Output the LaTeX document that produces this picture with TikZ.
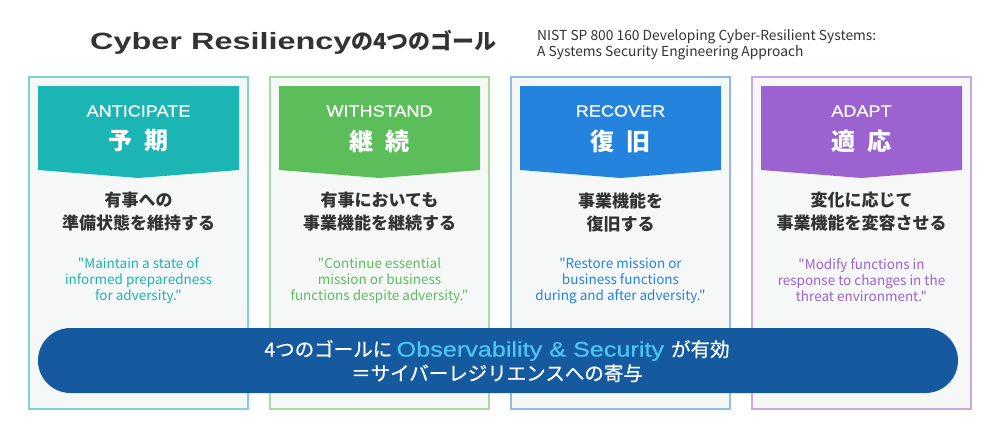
\documentclass[tikz,border=0pt]{standalone}
\usepackage{fontspec}
\usetikzlibrary{positioning}
\newfontfamily\jpfont{Noto Sans CJK JP}
\newfontfamily\jpmed[FakeBold=0.6]{Noto Sans CJK JP}
\newfontfamily\latfont{Liberation Sans}
\newfontfamily\titlelat[FakeStretch=1.38]{Liberation Sans Bold}
\newfontfamily\bandlat[FakeStretch=1.2, FakeBold=0.6]{Liberation Sans}
\newfontfamily\labellat[FakeStretch=1.13, FakeBold=0.4]{Liberation Sans}

\definecolor{tealH}{HTML}{1BB5B4}  \definecolor{tealL}{HTML}{80D2CE}
\definecolor{greenH}{HTML}{5BBE5B} \definecolor{greenL}{HTML}{A6DBA2}
\definecolor{blueH}{HTML}{2484DD}  \definecolor{blueL}{HTML}{8DBDEA}
\definecolor{purpH}{HTML}{9C62CF}  \definecolor{purpL}{HTML}{C9A8E6}
\definecolor{bandblue}{HTML}{155A9E}
\definecolor{lightcyan}{HTML}{4EC4F0}
\definecolor{cardbg}{HTML}{F6F8F8}
\definecolor{darktext}{HTML}{333333}

\begin{document}
\begin{tikzpicture}[x=1pt, y=-1pt,
	card/.style={draw, fill=cardbg, line width=1.2pt, minimum width=219, minimum height=332, inner sep=0},
	entitle/.style={text=white, font=\labellat\fontsize{16}{18}\selectfont},
	kanji/.style={text=white, font=\jpfont\bfseries\fontsize{24}{26}\selectfont},
	goal/.style={text=darktext, align=center, font=\jpfont\bfseries\fontsize{17}{23}\selectfont},
	quote/.style={align=center, font=\jpfont\fontsize{13.5}{16}\selectfont},
	band/.style={fill=bandblue, rounded corners=32.5, minimum width=920, minimum height=65, inner sep=0}]
	\useasboundingbox (0,0) rectangle (1000,440);
	\fill[white] (0,0) rectangle (1000,440);

	% title
	\node[anchor=base west, inner sep=0, text=darktext] (title) at (90,49)
		{\fontsize{23.5}{28}\selectfont\titlelat Cyber Resiliency\jpfont\bfseries\fontsize{22}{28}\selectfont の4つのゴール};
	\node[anchor=north west, inner sep=0, align=left, text=darktext, font=\jpfont\fontsize{13.8}{16.5}\selectfont] (source) at (537,29)
		{NIST SP 800 160 Developing Cyber-Resilient Systems:\\A Systems Security Engineering Approach};

	% four goals
	\foreach \i/\colH/\colL/\en/\kj/\hA/\hB/\qA/\qB/\qC in {
		1/tealH/tealL/ANTICIPATE/{予\hspace{13pt}期}/有事への/準備状態を維持する/{"Maintain a state of}/{informed preparedness}/{for adversity."},
		2/greenH/greenL/WITHSTAND/{継\hspace{13pt}続}/有事においても/事業機能を継続する/{"Continue essential}/{mission or business}/{functions despite adversity."},
		3/blueH/blueL/RECOVER/{復\hspace{13pt}旧}/事業機能を/復旧する/{"Restore mission or}/{business functions}/{during and after adversity."},
		4/purpH/purpL/ADAPT/{適\hspace{13pt}応}/変化に応じて/事業機能を変容させる/{"Modify functions in}/{response to changes in the}/{threat environment."}} {
		\pgfmathsetmacro\cx{138.5+241*(\i-1)}
		\node[card, draw=\colL] (card\i) at (\cx,243) {};
		\fill[\colH] (\cx-100.5,86) -- (\cx+100.5,86) -- (\cx+100.5,170) -- (\cx,178) -- (\cx-100.5,170) -- cycle;
		\node[entitle] (en\i) at (\cx,111) {\en};
		\node[kanji] (kj\i) at (\cx,141) {\kj};
		\node[goal] (goal\i) at (\cx,212) {\hA\\\hB};
		\node[quote, text=\colH] (quote\i) at (\cx,280.5) {\qA\\\qB\\\qC};
	}

	% observability band
	\node[band] (obs) at (498,360.5) {};
	\node[text=white, align=center, font=\fontsize{19.5}{24}\selectfont] (obstext) at (497,361)
		{\jpmed 4つのゴールに \bandlat\fontsize{21}{24}\selectfont\textcolor{lightcyan}{Observability \& Security} \jpmed\fontsize{19.5}{24}\selectfont が有効\\
		 \jpmed ＝サイバーレジリエンスへの寄与};
\end{tikzpicture}
\end{document}
